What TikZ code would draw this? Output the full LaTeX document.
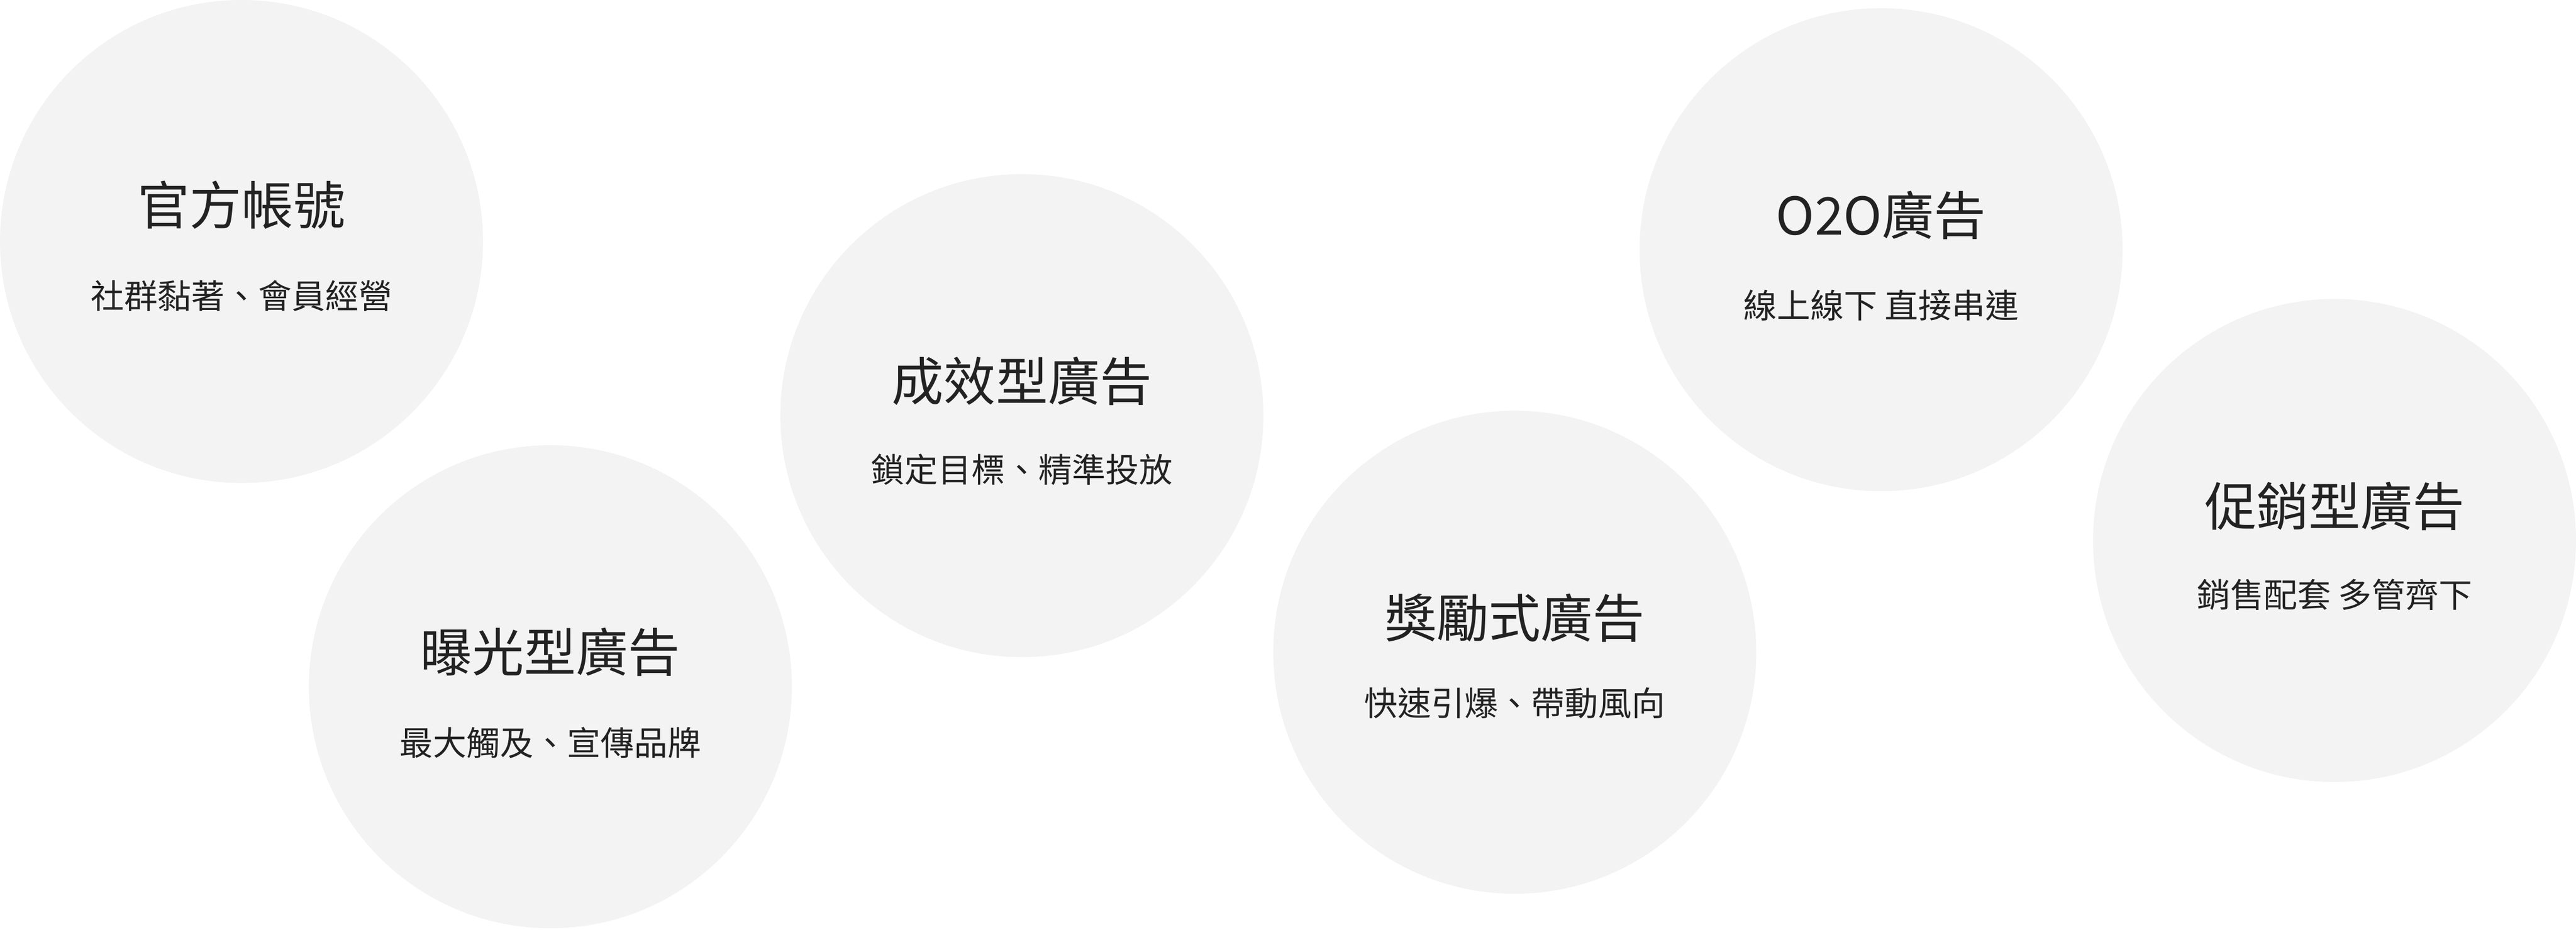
\documentclass[tikz,border=0pt]{standalone}
\usepackage{fontspec}
\setmainfont{Noto Sans CJK TC}
\definecolor{bubble}{HTML}{F3F3F3}
\definecolor{ink}{HTML}{222222}
\tikzset{
  bubble/.style={circle, fill=bubble, minimum size=2.94cm, inner sep=0pt},
  title/.style={text=ink, font=\fontsize{9}{10}\selectfont},
  sub/.style={text=ink, font=\fontsize{5.8}{7}\selectfont}
}
\begin{document}
\begin{tikzpicture}
\useasboundingbox (0,0) rectangle (15.68,5.66);
% Bubbles
\node[bubble] (account) at (1.47,4.19) {};
\node[bubble] (exposure) at (3.35,1.48) {};
\node[bubble] (performance) at (6.22,3.13) {};
\node[bubble] (reward) at (9.22,1.69) {};
\node[bubble] (oto) at (11.45,4.14) {};
\node[bubble] (promo) at (14.21,2.37) {};
% Titles
\node[title] at ([yshift=0.22cm]account) {官方帳號};
\node[sub] at ([yshift=-0.33cm]account) {社群黏著、會員經營};
\node[title] at ([yshift=0.21cm]exposure) {曝光型廣告};
\node[sub] at ([yshift=-0.34cm]exposure) {最大觸及、宣傳品牌};
\node[title] at ([yshift=0.21cm]performance) {成效型廣告};
\node[sub] at ([yshift=-0.33cm]performance) {鎖定目標、精準投放};
\node[title] at ([yshift=0.21cm]reward) {獎勵式廣告};
\node[sub] at ([yshift=-0.31cm]reward) {快速引爆、帶動風向};
\node[title] at ([yshift=0.21cm]oto) {O2O廣告};
\node[sub] at ([yshift=-0.34cm]oto) {線上線下 直接串連};
\node[title] at ([yshift=0.21cm]promo) {促銷型廣告};
\node[sub] at ([yshift=-0.33cm]promo) {銷售配套 多管齊下};
\end{tikzpicture}
\end{document}
